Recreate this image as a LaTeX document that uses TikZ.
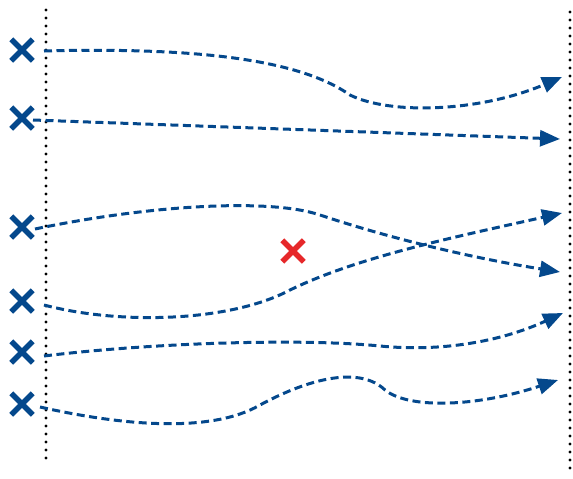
\documentclass[tikz,border=0pt]{standalone}
\usetikzlibrary{positioning,arrows.meta,shapes.misc}
\definecolor{pathblue}{RGB}{4,72,140}
\definecolor{hitred}{RGB}{230,40,42}

\begin{document}
\begin{tikzpicture}[
        x=1pt, y=-1pt,
        xmark/.style={cross out, draw=pathblue, line width=5.5pt, minimum size=16pt, inner sep=0pt},
        boundary/.style={line width=3.2pt, line cap=round, dash pattern=on 0pt off 8pt},
        track/.style={pathblue, line width=3pt, dash pattern=on 8pt off 4.5pt, -{Triangle[length=20pt,width=16pt]}}
    ]
        \useasboundingbox (0,0) rectangle (573,479);

        % boundaries
        \draw[boundary] (46,10) -- (46,458);
        \draw[boundary] (570,12) -- (570,475);

        % start points
        \node[xmark] (m1) at (22,50) {};
        \node[xmark] (m2) at (22,118) {};
        \node[xmark] (m3) at (22,227) {};
        \node[xmark] (m4) at (22,301) {};
        \node[xmark] (m5) at (22,352) {};
        \node[xmark] (m6) at (22,404) {};
        \node[xmark, draw=hitred] (hit) at (293,251) {};

        \coordinate (s1) at (44,51);
        \coordinate (s2) at (33,120);
        \coordinate (s3) at (35,229);
        \coordinate (s4) at (44,305);
        \coordinate (s5) at (44,356);
        \coordinate (s6) at (40,407);

        \coordinate (e1) at (562,77);
        \coordinate (e2) at (560,139);
        \coordinate (e3) at (560,272);
        \coordinate (e4) at (562,213);
        \coordinate (e5) at (563,313);
        \coordinate (e6) at (558,380);

        \draw[track] (s1) .. controls (200,47) and (300,60) .. (350,95)
            .. controls (390,115) and (480,112) .. (e1);
        \draw[track] (s2) -- (e2);
        \draw[track] (s3) .. controls (150,205) and (270,198) .. (320,215)
            .. controls (380,235) and (460,256) .. (e3);
        \draw[track] (s4) .. controls (120,325) and (230,322) .. (290,290)
            .. controls (360,256) and (460,236) .. (e4);
        \draw[track] (s5) .. controls (150,343) and (300,338) .. (380,346)
            .. controls (440,352) and (500,342) .. (e5);
        \draw[track] (s6) .. controls (120,425) and (210,434) .. (260,405)
            .. controls (310,378) and (360,366) .. (385,390)
            .. controls (410,410) and (480,406) .. (e6);
    \end{tikzpicture}
\end{document}
